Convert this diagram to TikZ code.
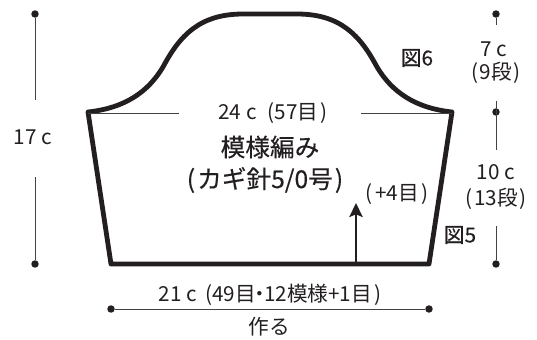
\documentclass[tikz,border=0pt]{standalone}
\usepackage{fontspec}
\setmainfont{Noto Sans CJK JP}
\newfontfamily\heavyfont[FakeBold=0.35]{Noto Sans CJK JP}
\usetikzlibrary{arrows.meta, positioning}
\definecolor{inkcolor}{RGB}{35, 31, 32}

\tikzset{
    outline/.style={line width=3.6pt, inkcolor, line join=round},
    dimline/.style={line width=0.75pt, inkcolor!85},
    dimdot/.style={circle, fill=inkcolor, inner sep=0pt, minimum size=5.6pt},
    label/.style={font=\fontsize{15.5}{18}\selectfont, text=inkcolor, inner sep=0pt},
    figlabel/.style={font=\heavyfont\fontsize{15.5}{18}\selectfont, text=inkcolor, inner sep=0pt},
    titlelabel/.style={font=\heavyfont\fontsize{18.5}{22}\selectfont, text=inkcolor, inner sep=0pt}
}

\begin{document}
\begin{tikzpicture}[x=0.75pt, y=-0.75pt]
    \useasboundingbox (0,0) rectangle (537,340);

    % Sleeve outline
    \draw[outline] (111,264) -- (88,112)
        .. controls (125,108) and (148,92) .. (163,67)
        .. controls (180,35) and (200,14) .. (243,14)
        -- (297,14)
        .. controls (340,14) and (360,35) .. (377,67)
        .. controls (392,92) and (415,108) .. (452,112)
        -- (429,264) -- cycle;

    % Height on the left
    \node[dimdot] (dotLT) at (35,14) {};
    \node[dimdot] (dotLB) at (35,264) {};
    \coordinate (endLT) at (35,100);
    \coordinate (endLB) at (35,177);
    \draw[dimline] (dotLT) -- (endLT);
    \draw[dimline] (endLB) -- (dotLB);
    \node[label] (height) at (33,137) {17 c};

    % Heights on the right
    \node[dimdot] (dotRT) at (496,14) {};
    \node[dimdot] (dotRM) at (496,112) {};
    \node[dimdot] (dotRB) at (496,264) {};
    \coordinate (endRa) at (496,25);
    \coordinate (endRb) at (496,101);
    \coordinate (endRc) at (496,150);
    \coordinate (endRd) at (496,226);
    \draw[dimline] (dotRT) -- (endRa);
    \draw[dimline] (endRb) -- (endRc);
    \draw[dimline] (endRd) -- (dotRB);
    \node[label] (capH) at (494,49) {7 c};
    \node[label] (capR) at (496,73) {(\kern.08em 9段\kern.08em)};
    \node[label] (bodyH) at (496,172) {10 c};
    \node[label] (bodyR) at (496,199) {(\kern.08em 13段\kern.08em)};

    % Width across the cap line
    \coordinate (capL) at (88,113.5);
    \coordinate (capLe) at (179,113.5);
    \coordinate (capRs) at (361,113.5);
    \coordinate (capRe) at (452,113.5);
    \draw[dimline] (capL) -- (capLe);
    \draw[dimline] (capRs) -- (capRe);
    \node[label] (width) at (273,113) {24 c\hspace{0.55em}(57目\kern.1em)};

    % Stitch pattern
    \node[titlelabel] (pattern) at (270,147) {模様編み};
    \node[titlelabel] (hook) at (265,180) {(\kern.08em カギ針5/0号\kern.08em)};

    % Increase arrow
    \coordinate (incA) at (356,264);
    \coordinate (incB) at (356,203);
    \draw[line width=1.7pt, inkcolor, -{Stealth[length=10.5pt, width=10pt, inset=2pt]}] (incA) -- (incB);
    \node[label] (inc) at (397,194) {(\kern.15em +4目\kern.15em)};

    % Figure references
    \node[figlabel] (figsix) at (417,58) {図6};
    \node[figlabel] (figfive) at (460,235) {図5};

    % Bottom width
    \node[dimdot] (dotBL) at (111,309) {};
    \node[dimdot] (dotBR) at (429,309) {};
    \draw[dimline] (dotBL) -- (dotBR);
    \node[label] (bottom) at (270,295) {21 c\hspace{0.4em}(49目\kern-.3em・\kern-.3em 12模様+1目\kern.1em)};
    \node[label] (make) at (269,327) {作る};
\end{tikzpicture}
\end{document}
